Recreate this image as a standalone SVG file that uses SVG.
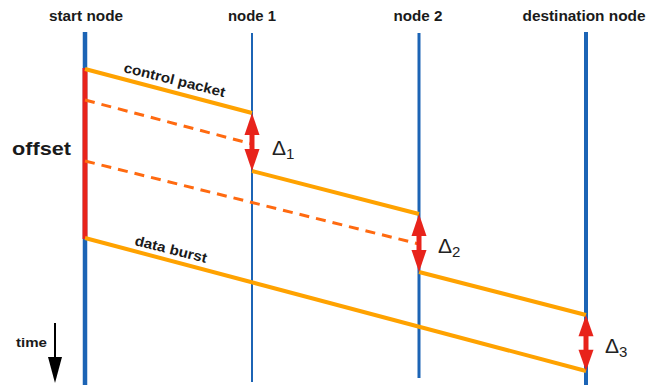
<svg xmlns="http://www.w3.org/2000/svg" width="647" height="385" viewBox="0 0 647 385">
  <style>
    .hdr { font-family: "Liberation Sans", Arial, sans-serif; font-weight: bold; font-size: 15px; fill: #1a1a1a; text-anchor: middle; }
    .lbl { font-family: "Liberation Sans", Arial, sans-serif; font-weight: bold; fill: #1a1a1a; }
    .delta { font-family: "Liberation Sans", Arial, sans-serif; font-size: 21px; fill: #222; }
    .delta tspan { font-size: 15px; }
    .life { stroke: #1c64b5; fill: none; }
    .msg { stroke: #ffa200; stroke-width: 4; fill: none; }
    .dash { stroke: #ff6a10; stroke-width: 3; stroke-dasharray: 10 7; fill: none; }
    .offset { stroke: #e8231b; stroke-width: 5; }
    .dshaft { stroke: #e8231b; stroke-width: 5; }
    .dhead { fill: #e8231b; }
  </style>
  <defs>
    <!-- red double-headed delay marker, 58 units tall -->
    <g id="dbl">
      <path class="dhead" d="M0 0 L7.5 22 L-7.5 22 Z"/>
      <path class="dhead" d="M0 58 L7.5 36 L-7.5 36 Z"/>
      <line class="dshaft" x1="0" y1="21" x2="0" y2="37"/>
    </g>
  </defs>

  <!-- lifelines with their headers -->
  <g id="start-node">
    <text class="hdr" x="86" y="21" textLength="74" lengthAdjust="spacingAndGlyphs">start node</text>
    <line class="life" x1="85" y1="32" x2="85" y2="385" stroke-width="4.5"/>
  </g>
  <g id="node-1">
    <text class="hdr" x="252" y="21" textLength="48" lengthAdjust="spacingAndGlyphs">node 1</text>
    <line class="life" x1="252" y1="33" x2="252" y2="382" stroke-width="2"/>
  </g>
  <g id="node-2">
    <text class="hdr" x="418" y="21" textLength="49" lengthAdjust="spacingAndGlyphs">node 2</text>
    <line class="life" x1="419" y1="33" x2="419" y2="378" stroke-width="3"/>
  </g>
  <g id="destination-node">
    <text class="hdr" x="584" y="21" textLength="123" lengthAdjust="spacingAndGlyphs">destination node</text>
    <line class="life" x1="586" y1="32" x2="586" y2="385" stroke-width="4"/>
  </g>

  <!-- offset interval on the source -->
  <g id="offset">
    <line class="offset" x1="85" y1="68" x2="85" y2="239"/>
    <text class="lbl" x="12" y="155" font-size="19" textLength="59" lengthAdjust="spacingAndGlyphs">offset</text>
  </g>

  <!-- messages -->
  <g id="connectors">
    <path class="dash" d="M85 100 L252 144"/>
    <path class="dash" d="M85 161 L419 244"/>
    <path class="msg" d="M85 69 L252 113 M252 171 L419 214 M419 272 L586 315"/>
    <path class="msg" d="M85 238 L586 371"/>
    <text class="lbl" font-size="14" textLength="104" lengthAdjust="spacingAndGlyphs" transform="translate(123 72) rotate(14)">control packet</text>
    <text class="lbl" font-size="14" textLength="74" lengthAdjust="spacingAndGlyphs" transform="translate(134 245) rotate(14)">data burst</text>
  </g>

  <!-- per-hop processing delays -->
  <g id="delay-1">
    <use href="#dbl" transform="translate(252 113)"/>
    <text class="delta" x="272" y="155">Δ<tspan dy="4">1</tspan></text>
  </g>
  <g id="delay-2">
    <use href="#dbl" transform="translate(419 214)"/>
    <text class="delta" x="438" y="253">Δ<tspan dy="4">2</tspan></text>
  </g>
  <g id="delay-3">
    <use href="#dbl" transform="translate(586 315) scale(1 0.966)"/>
    <text class="delta" x="605" y="353">Δ<tspan dy="4">3</tspan></text>
  </g>

  <!-- time axis -->
  <g id="time-axis">
    <text class="lbl" x="16" y="347" font-size="13" textLength="31" lengthAdjust="spacingAndGlyphs">time</text>
    <line x1="55" y1="323" x2="55" y2="360" stroke="#000" stroke-width="2"/>
    <path d="M55 383 L48 357 L62 357 Z" fill="#000"/>
  </g>
</svg>
